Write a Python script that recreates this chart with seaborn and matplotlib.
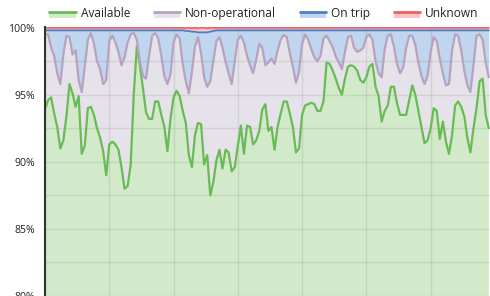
import numpy as np
import pandas as pd
import matplotlib
matplotlib.use("Agg")
import matplotlib.pyplot as plt
import seaborn as sns
from matplotlib.legend_handler import HandlerBase
from matplotlib.patches import Patch, Rectangle
from matplotlib.lines import Line2D

# ---- data (percent of fleet per status, sampled ~7 times per day) ----
available = [
    93.9, 94.6, 94.8, 93.6, 92.6, 91.0, 91.6, 93.4, 95.8, 95.1,
    94.1, 94.9, 90.6, 91.2, 94.0, 94.1, 93.5, 92.5, 91.8, 90.8,
    89.0, 91.3, 91.5, 91.3, 90.9, 89.6, 88.0, 88.2, 89.8, 95.0,
    98.6, 97.2, 95.5, 93.7, 93.2, 93.2, 94.5, 94.5, 93.5, 92.6,
    90.8, 93.2, 94.8, 95.3, 94.9, 93.8, 92.9, 90.5, 89.6, 92.0,
    92.9, 92.8, 89.8, 90.5, 87.5, 88.5, 90.1, 90.9, 89.5, 90.9,
    90.7, 89.3, 89.6, 91.2, 92.7, 90.6, 92.7, 92.6, 91.3, 91.6,
    92.3, 93.9, 94.3, 92.3, 92.6, 90.9, 92.6, 93.6, 94.5, 94.5,
    93.6, 92.6, 90.7, 91.0, 93.5, 94.2, 94.3, 94.4, 94.3, 93.8,
    93.8, 94.5, 97.4, 97.3, 96.8, 96.2, 95.5, 95.0, 96.2, 97.1,
    97.2, 97.1, 96.8, 96.1, 95.9, 96.3, 97.1, 97.3, 95.6, 94.9,
    93.0, 93.8, 94.2, 95.6, 95.6, 94.4, 93.5, 93.5, 93.5, 94.6,
    95.7, 95.0, 93.8, 92.6, 91.4, 91.6, 92.5, 94.0, 93.8, 91.7,
    93.0, 91.5, 90.6, 92.0, 94.2, 94.5, 94.1, 93.4, 91.8, 90.7,
    92.5, 94.0, 96.0, 96.2, 93.5, 92.5,
]
non_operational = [
    5.6, 4.9, 3.7, 4.3, 4.0, 4.8, 6.4, 6.0, 3.5, 2.9,
    4.2, 1.2, 4.6, 5.9, 5.1, 5.5, 5.3, 5.0, 5.1, 5.0,
    7.1, 7.7, 7.9, 7.6, 7.3, 7.6, 9.8, 10.7, 9.7, 4.6,
    0.5, 0.3, 0.9, 2.5, 4.7, 6.2, 5.1, 4.7, 4.4, 3.8,
    5.0, 3.3, 4.1, 4.2, 4.3, 3.5, 3.1, 4.6, 7.1, 6.6,
    6.4, 5.3, 6.5, 5.1, 8.5, 9.0, 8.9, 8.4, 9.0, 6.55,
    5.9, 6.5, 7.9, 7.9, 6.7, 8.3, 5.2, 4.6, 5.3, 6.0,
    6.5, 4.6, 2.9, 5.1, 5.1, 6.4, 5.7, 5.5, 4.95, 4.8,
    4.5, 4.5, 5.2, 5.7, 5.3, 5.3, 4.8, 4.0, 3.5, 3.7,
    4.1, 4.7, 2.0, 1.7, 1.75, 1.65, 1.9, 1.9, 2.0, 2.2,
    2.2, 1.4, 1.4, 2.2, 2.6, 3.0, 2.4, 1.8, 1.9, 1.7,
    3.3, 4.6, 5.2, 3.9, 3.0, 2.9, 3.1, 3.5, 5.0, 4.8,
    3.7, 3.7, 3.6, 3.8, 4.4, 4.8, 5.7, 5.3, 5.2, 6.0,
    3.6, 4.2, 5.2, 6.3, 5.3, 4.9, 4.2, 3.4, 3.9, 4.5,
    4.7, 5.4, 3.5, 2.9, 3.9, 3.8,
]
on_trip = [
    0.3, 0.3, 1.3, 1.9, 3.2, 4.0, 1.8, 0.4, 0.5, 1.8,
    1.5, 3.7, 4.6, 2.7, 0.7, 0.2, 1.0, 2.3, 2.9, 4.0,
    3.7, 0.8, 0.4, 0.9, 1.6, 2.6, 2.0, 0.9, 0.3, 0.2,
    0.7, 2.3, 3.4, 3.6, 1.9, 0.4, 0.2, 0.6, 1.9, 3.4,
    4.0, 3.3, 0.9, 0.3, 0.6, 2.5, 3.75, 4.65, 3.0, 1.1,
    0.35, 1.55, 3.35, 4.05, 3.7, 2.25, 0.8, 0.5, 1.3, 2.35,
    3.2, 4.0, 2.3, 0.7, 0.4, 0.9, 1.9, 2.6, 3.2, 2.2,
    1.0, 1.3, 2.6, 2.4, 2.1, 2.5, 1.5, 0.7, 0.35, 0.5,
    1.7, 2.7, 3.9, 3.1, 1.0, 0.3, 0.7, 1.4, 2.0, 2.3,
    1.9, 0.6, 0.4, 0.8, 1.25, 1.95, 2.4, 2.9, 1.6, 0.5,
    0.4, 1.3, 1.6, 1.5, 1.3, 0.5, 0.3, 0.7, 2.3, 3.2,
    3.5, 1.4, 0.4, 0.3, 1.2, 2.5, 3.2, 2.8, 1.3, 0.4,
    0.4, 1.1, 2.4, 3.4, 4.0, 3.4, 1.6, 0.5, 0.8, 2.1,
    3.2, 4.1, 4.0, 1.5, 0.3, 0.4, 1.5, 3.0, 4.1, 4.6,
    2.6, 0.4, 0.3, 0.7, 2.4, 3.5,
]
unknown = [
    0.2, 0.2, 0.2, 0.2, 0.2, 0.2, 0.2, 0.2, 0.2, 0.2,
    0.2, 0.2, 0.2, 0.2, 0.2, 0.2, 0.2, 0.2, 0.2, 0.2,
    0.2, 0.2, 0.2, 0.2, 0.2, 0.2, 0.2, 0.2, 0.2, 0.2,
    0.2, 0.2, 0.2, 0.2, 0.2, 0.2, 0.2, 0.2, 0.2, 0.2,
    0.2, 0.2, 0.2, 0.2, 0.2, 0.2, 0.2, 0.25, 0.25, 0.3,
    0.3, 0.35, 0.35, 0.3, 0.3, 0.25, 0.2, 0.2, 0.2, 0.2,
    0.2, 0.2, 0.2, 0.2, 0.2, 0.2, 0.2, 0.2, 0.2, 0.2,
    0.2, 0.2, 0.2, 0.2, 0.2, 0.2, 0.2, 0.2, 0.2, 0.2,
    0.2, 0.2, 0.2, 0.2, 0.2, 0.2, 0.2, 0.2, 0.2, 0.2,
    0.2, 0.2, 0.2, 0.2, 0.2, 0.2, 0.2, 0.2, 0.2, 0.2,
    0.2, 0.2, 0.2, 0.2, 0.2, 0.2, 0.2, 0.2, 0.2, 0.2,
    0.2, 0.2, 0.2, 0.2, 0.2, 0.2, 0.2, 0.2, 0.2, 0.2,
    0.2, 0.2, 0.2, 0.2, 0.2, 0.2, 0.2, 0.2, 0.2, 0.2,
    0.2, 0.2, 0.2, 0.2, 0.2, 0.2, 0.2, 0.2, 0.2, 0.2,
    0.2, 0.2, 0.2, 0.2, 0.2, 0.2,
]
series_names = ["Available", "Non-operational", "On trip", "Unknown"]
line_colors = ["#69bb55", "#b7a2c0", "#4d80c6", "#ef5f66"]
fill_colors = ["#d2eac9", "#e5e2e9", "#c0d6ee", "#f8c4c6"]
y_ticks = [80, 85, 90, 95, 100]
y_tick_labels = ["80%", "85%", "90%", "95%", "100%"]
samples_per_gridline = 21

step = np.arange(len(available))
df = pd.DataFrame({"step": step, "Available": available,
                   "Non-operational": non_operational,
                   "On trip": on_trip, "Unknown": unknown})
levels = df[series_names].cumsum(axis=1)

sns.set_theme(style="white")
plt.rcParams["font.family"] = ["Open Sans", "DejaVu Sans"]

fig = plt.figure(figsize=(4.9, 2.96), dpi=100)
ax = fig.add_axes([45 / 490, 0.0, 1 - 45 / 490, 1 - 27 / 296])

for i, name in enumerate(series_names):
    lower = levels[series_names[i - 1]] if i > 0 else np.zeros(len(step))
    ax.fill_between(step, lower, levels[name], color=fill_colors[i],
                    linewidth=0, zorder=1)
for i, name in enumerate(series_names):
    sns.lineplot(x=step, y=levels[name].values, ax=ax, color=line_colors[i],
                 linewidth=1.6 if i < 2 else 1.3, legend=False, zorder=3 + i)

ax.set_xlim(0, 145.4)
ax.set_ylim(80, 100.05)
ax.set_yticks(y_ticks)
ax.set_yticklabels(y_tick_labels)
ax.set_yticks([82.5, 87.5, 92.5, 97.5], minor=True)
ax.set_xticks(np.arange(0, len(step) + 1, samples_per_gridline))
ax.set_xlabel("")
ax.set_ylabel("")
ax.set_axisbelow(False)
ax.grid(True, which="both", axis="y", color="black", alpha=0.08, linewidth=1)
ax.grid(True, which="major", axis="x", color="black", alpha=0.08, linewidth=1)
ax.tick_params(axis="y", which="both", length=0, pad=7, labelsize=7.6,
               labelcolor="#222222")
ax.tick_params(axis="x", which="both", length=0, labelbottom=False)
for s in ["top", "right", "bottom"]:
    ax.spines[s].set_visible(False)
ax.spines["left"].set_color("#333333")
ax.spines["left"].set_linewidth(1.5)
ax.spines["left"].set_zorder(10)


class AreaHandler(HandlerBase):
    def create_artists(self, legend, orig_handle, xdescent, ydescent,
                       width, height, fontsize, trans):
        mid = -ydescent + height * 0.55
        bot = -ydescent - height * 0.15
        rect = Rectangle((-xdescent, bot), width, mid - bot,
                         facecolor=orig_handle.get_facecolor(),
                         edgecolor="none", transform=trans)
        line = Line2D([-xdescent, -xdescent + width], [mid, mid],
                      color=orig_handle.get_edgecolor(), linewidth=2,
                      transform=trans)
        return [rect, line]


handles = [Patch(facecolor=fc, edgecolor=lc) for fc, lc in zip(fill_colors, line_colors)]
fig.legend(handles, series_names, loc="center", ncol=4, frameon=False,
           bbox_to_anchor=(264 / 490, 1 - 13.5 / 296), fontsize=8.6,
           handlelength=2.2, handletextpad=0.45, columnspacing=1.95,
           handler_map={Patch: AreaHandler()}, labelcolor="#222222")

fig.savefig("out.png", dpi=100)
